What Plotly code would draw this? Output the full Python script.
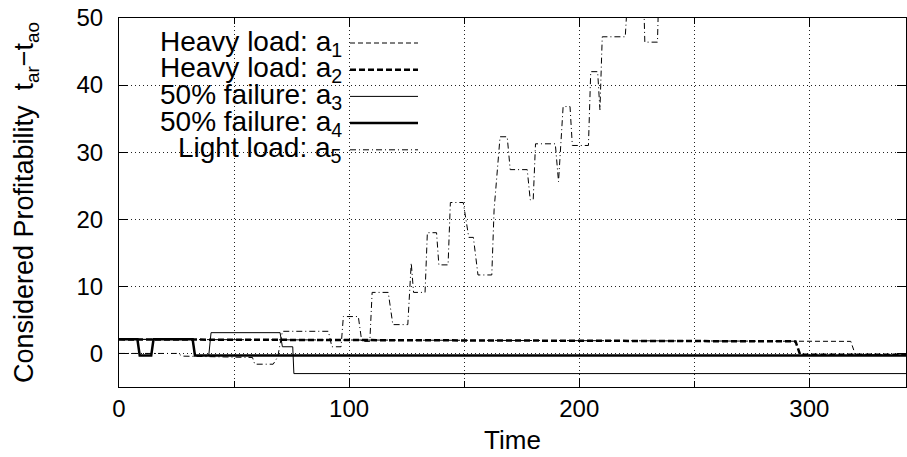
import plotly.graph_objects as go

# ---------------- data ----------------
series_names = [
    "Heavy load: a<sub>1</sub>",
    "Heavy load: a<sub>2</sub>",
    "50% failure: a<sub>3</sub>",
    "50% failure: a<sub>4</sub>",
    "Light load: a<sub>5</sub>",
]

a1_time = [0, 318, 320, 342]
a1_val = [2.1, 1.8, -0.2, -0.2]

a2_time = [0, 294, 296, 342]
a2_val = [2.1, 1.8, -0.2, -0.2]

a3_time = [0, 32, 33, 39, 40, 70, 71, 75.5, 76, 342]
a3_val = [2.1, 2.1, -0.3, -0.3, 3.1, 3.1, 1.0, 1.0, -3.0, -3.0]

a4_time = [0, 8, 9, 14, 15, 32, 33, 342]
a4_val = [2.1, 2.1, -0.3, -0.3, 2.1, 2.1, -0.3, -0.3]

a5_time = [0, 25, 28, 50, 58, 59, 67, 69, 71, 91, 92.5, 96.5, 97.5, 104,
           105.5, 109, 110, 117, 119, 125.5, 127, 128, 133, 134, 138, 139,
           143, 144, 149.6, 152, 154, 156, 162, 163, 165.6, 168.7, 170,
           177.4, 178.7, 180, 181, 189.6, 191, 193, 196, 197, 204, 205, 208,
           209, 210, 220, 221, 228, 228.5, 234, 234.5, 240]
a5_val = [0.0, 0.0, -0.4, -0.5, -0.6, -1.6, -1.6, -0.5, 3.3, 3.3, 1.0, 1.0,
          5.5, 5.5, 1.8, 1.8, 9.1, 9.1, 4.3, 4.3, 13.5, 9.1, 9.1, 18.0, 18.0,
          13.2, 13.2, 22.5, 22.5, 17.3, 17.3, 11.7, 11.7, 21.4, 32.3, 32.3,
          27.4, 27.4, 22.9, 22.9, 31.25, 31.25, 25.6, 36.8, 36.8, 31.0, 31.0,
          42.0, 42.0, 36.3, 47.2, 47.2, 53.0, 53.0, 46.4, 46.4, 53.0, 56.0]

x_tick_vals = [0, 100, 200, 300]
x_tick_text = ["0", "100", "200", "300"]
y_tick_vals = [0, 10, 20, 30, 40, 50]
y_tick_text = ["0", "10", "20", "30", "40", "50"]

# ---------------- styles ----------------
styles = [
    dict(width=1, dash="5px,3px"),
    dict(width=2.5, dash="6px,3px"),
    dict(width=1, dash="solid"),
    dict(width=2.5, dash="solid"),
    dict(width=1, dash="6px,3px,1px,3px"),
]
series = [(a1_time, a1_val), (a2_time, a2_val), (a3_time, a3_val),
          (a4_time, a4_val), (a5_time, a5_val)]

FONT = "Liberation Sans, Arial, Helvetica, sans-serif"

fig = go.Figure()
for name, (t, v), st in zip(series_names, series, styles):
    fig.add_trace(go.Scatter(x=t, y=v, mode="lines", name=name,
                             line=dict(color="black", **st),
                             showlegend=False))

# ---------------- manual gnuplot-style legend (text left, sample right) ----
W, H = 907, 457
ml, mr, mt, mb = 119, 1, 18, 70
pw, ph = W - ml - mr, H - mt - mb
def px2paper_x(px):
    return (px - ml) / pw
def py2paper_y(py):
    return (H - mb - py) / ph

row0, row_step = 43, 26.7
for i, (name, st) in enumerate(zip(series_names, styles)):
    yy = py2paper_y(row0 + i * row_step)
    fig.add_annotation(x=px2paper_x(344), y=yy, xref="paper", yref="paper",
                       text=name, showarrow=False, xanchor="right",
                       yanchor="middle", font=dict(family=FONT, size=28, color="black"))
    fig.add_shape(type="line", xref="paper", yref="paper",
                  x0=px2paper_x(350), x1=px2paper_x(418), y0=yy, y1=yy,
                  line=dict(color="black", **st))

grid = dict(showgrid=True, gridcolor="#222", gridwidth=1, griddash="1px,3px")
fig.update_xaxes(range=[0, 342], tickvals=x_tick_vals, ticktext=x_tick_text,
                 ticks="inside", ticklen=9, tickcolor="black", tickwidth=1,
                 showline=True, linecolor="black", linewidth=1.2, mirror="ticks",
                 zeroline=False, automargin=False,
                 minor=dict(dtick=50, tick0=0, ticks="inside", ticklen=6,
                            tickcolor="black", showgrid=True, gridcolor="#222",
                            griddash="1px,3px", gridwidth=1),
                 title=dict(text="Time", font=dict(family=FONT, size=26, color="black"),
                            standoff=9),
                 tickfont=dict(family=FONT, size=24, color="black"),
                 ticklabelstandoff=0, **grid)
fig.update_yaxes(range=[-5, 50], tickvals=y_tick_vals, ticktext=y_tick_text,
                 ticks="inside", ticklen=9, tickcolor="black", tickwidth=1,
                 showline=True, linecolor="black", linewidth=1.2, mirror="ticks",
                 zeroline=False, automargin=False,
                 title=dict(text="Considered Profitability  t<sub>ar</sub>\u2212t<sub>ao</sub>",
                            font=dict(family=FONT, size=27, color="black"),
                            standoff=34),
                 tickfont=dict(family=FONT, size=24, color="black"),
                 ticklabelstandoff=10, **grid)

fig.update_layout(width=W, height=H, margin=dict(l=ml, r=mr, t=mt, b=mb),
                  paper_bgcolor="white", plot_bgcolor="white",
                  font=dict(family=FONT, color="black"))

fig.write_html("out.html", config={"displayModeBar": False},
               post_script="document.body.style.margin='0';document.body.style.padding='0';")
